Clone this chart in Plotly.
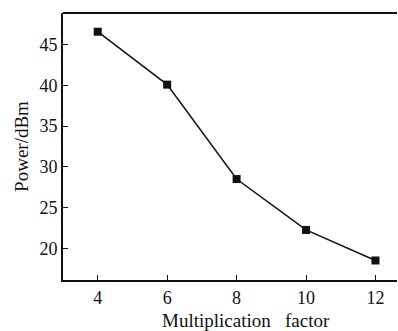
import plotly.graph_objects as go

factor = [4, 6, 8, 10, 12]
power_dbm = [46.6, 40.1, 28.5, 22.25, 18.5]
x_ticks = [4, 6, 8, 10, 12]
y_ticks = [20, 25, 30, 35, 40, 45]
x_title = "Multiplication\u2002 factor"
y_title = "Power/dBm"

fig = go.Figure()
fig.add_trace(go.Scatter(
    x=factor, y=power_dbm, mode="lines+markers",
    line=dict(color="#111111", width=1.5),
    marker=dict(symbol="square", size=8, color="#111111"),
    showlegend=False,
))

family = "Liberation Serif, Times New Roman, serif"
tickfont = dict(family=family, size=18, color="#111111")
titlefont = dict(family=family, size=19, color="#111111")

fig.update_layout(
    width=398, height=331,
    margin=dict(l=63, r=1, t=13, b=51),
    paper_bgcolor="white", plot_bgcolor="white",
    font=tickfont,
)
fig.update_xaxes(
    range=[3.0, 12.62], tickvals=x_ticks, ticks="inside", ticklen=5, tickwidth=1.2,
    tickcolor="#111111", showline=True, linecolor="#111111", linewidth=2,
    mirror=False, showgrid=False, zeroline=False,
    tickfont=tickfont,
)
fig.update_yaxes(
    range=[16.1, 48.9], tickvals=y_ticks, ticks="inside", ticklen=5, tickwidth=1.2,
    tickcolor="#111111", showline=True, linecolor="#111111", linewidth=2,
    showgrid=False, zeroline=False,
    title=dict(text=y_title, font=titlefont, standoff=6),
    tickfont=tickfont,
)
fig.add_annotation(text=x_title, xref="paper", yref="paper", x=0.548, y=-0.152,
                   xanchor="center", yanchor="middle", showarrow=False, font=titlefont)
# top frame line
fig.add_shape(type="line", xref="paper", yref="paper", x0=0, x1=1, y0=1, y1=1,
              line=dict(color="#111111", width=2))

fig.write_html("out.html")
